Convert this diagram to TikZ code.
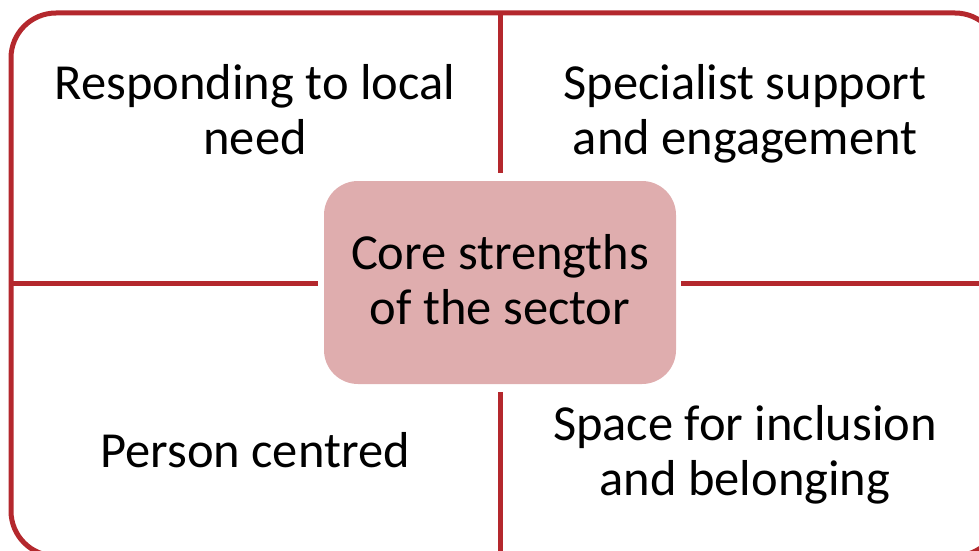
\documentclass[tikz,border=0pt]{standalone}
\usepackage{fontspec}
\setmainfont{Carlito}
\definecolor{rim}{RGB}{180,40,45}
\definecolor{corefill}{RGB}{223,173,174}
\begin{document}
\begin{tikzpicture}[x=1pt,y=-1pt,
  rimline/.style={draw=rim,line width=5pt},
  label/.style={align=center,font=\fontsize{50.5}{55}\selectfont,text=black,inner sep=0pt},
  core/.style={fill=corefill,draw=none,rounded corners=34pt,minimum width=352pt,minimum height=203pt,
               align=center,font=\fontsize{50.5}{55}\selectfont,inner sep=0pt}]
\useasboundingbox (0,0) rectangle (979,551);
\begin{scope}
\clip (0,0) rectangle (979,551);
% outer frame
\draw[rimline,rounded corners=45pt] (11,13) rectangle (1000,556);
% centre box
\node[core] (c) at (500,282.5) {};
\node[label] (ct) at (500,280) {Core strengths\\of the sector};
% dividing lines
\coordinate (top) at (500,13);
\coordinate (bot) at (500,556);
\coordinate (lft) at (11,283);
\coordinate (rgt) at (1000,283);
\draw[rimline] (top) -- ([yshift=8pt]c.north);
\draw[rimline] ([yshift=-8pt]c.south) -- (bot);
\draw[rimline] (lft) -- ([xshift=-6pt]c.west |- lft);
\draw[rimline] ([xshift=5pt]c.east |- rgt) -- (rgt);
\end{scope}
% quadrant labels
\node[label] (q1) at (255,110) {Responding to local\\need};
\node[label] (q2) at (745,114) {Specialist support\\and engagement};
\node[label] (q3) at (255,450) {Person centred};
\node[label] (q4) at (745,455) {Space for inclusion\\and belonging};
\end{tikzpicture}
\end{document}
